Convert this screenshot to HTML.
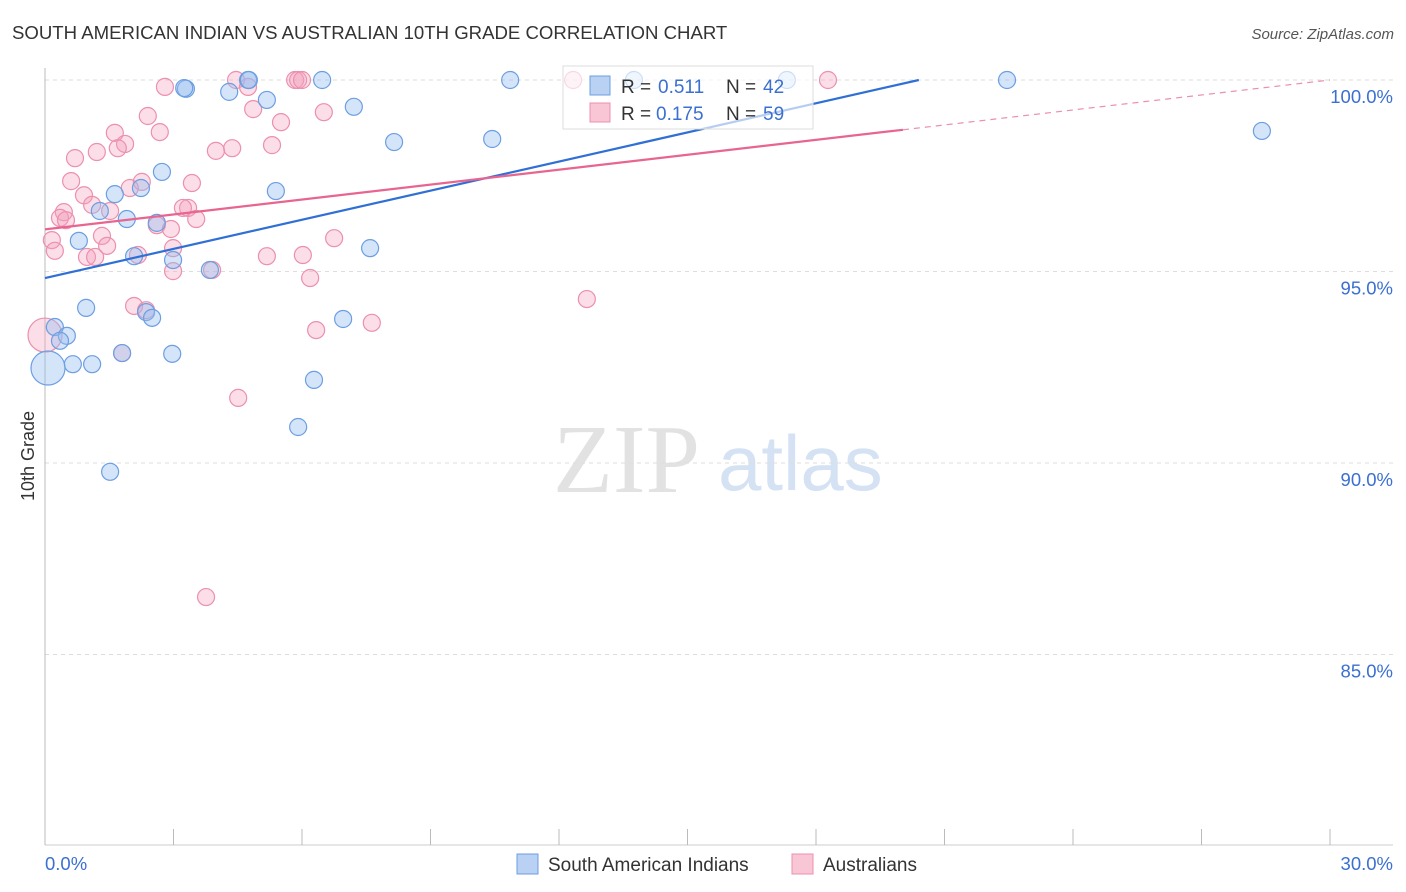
<!DOCTYPE html>
<html><head><meta charset="utf-8"><style>
body{margin:0;background:#fff;width:1406px;height:892px;overflow:hidden;font-family:"Liberation Sans",sans-serif}
svg{position:absolute;left:0;top:0}
</style></head><body>
<svg width="1406" height="892">
<text x="12" y="39" font-size="18.6" fill="#333">SOUTH AMERICAN INDIAN VS AUSTRALIAN 10TH GRADE CORRELATION CHART</text>
<text x="1394" y="39" font-size="15" fill="#555" font-style="italic" text-anchor="end">Source: ZipAtlas.com</text>
<text x="34" y="456" font-size="18" fill="#333" transform="rotate(-90 34 456)" text-anchor="middle">10th Grade</text>
<g><text x="553" y="492" font-size="98" font-family="Liberation Serif,serif" fill="#e2e2e2">ZIP</text><text x="718" y="490" font-size="78" fill="#d5e2f3">atlas</text></g>
<g id="grid"></g><g id="marks"></g><g id="lines"></g>
<g>
<rect x="563" y="66" width="250" height="63" fill="#fff" fill-opacity="0.65" stroke="#ddd"/>
<rect x="590" y="76" width="20" height="19" fill="#b9d1f3" stroke="#6c9ee2"/>
<rect x="590" y="103" width="20" height="19" fill="#f9c6d6" stroke="#ec90ad"/>
<g font-size="19"><text x="621" y="93" fill="#333">R =</text><text x="658" y="93" fill="#3b6fd0">0.511</text><text x="726" y="93" fill="#333">N =</text><text x="763" y="93" fill="#3b6fd0">42</text></g>
<g font-size="19"><text x="621" y="120" fill="#333">R =</text><text x="656" y="120" fill="#3b6fd0">0.175</text><text x="726" y="120" fill="#333">N =</text><text x="763" y="120" fill="#3b6fd0">59</text></g>
</g>
<g>
<rect x="517" y="854" width="21" height="20" fill="#b9d1f3" stroke="#6c9ee2"/>
<text x="548" y="871" font-size="19" fill="#333">South American Indians</text>
<rect x="792" y="854" width="21" height="20" fill="#f9c6d6" stroke="#ec90ad"/>
<text x="823" y="871" font-size="19" fill="#333">Australians</text>
</g>
</svg>
<script>
const blueX=[3.29,3.25,4.74,6.47,4.30,5.18,7.21,8.15,10.44,10.86,13.75,17.32,22.46,28.41,2.73,2.24,1.63,5.39,1.28,1.91,2.61,7.59,0.79,2.08,2.99,3.85,0.96,2.36,2.50,6.96,0.23,0.51,0.35,1.80,2.97,0.65,1.10,0.07,6.28,5.91,1.52,4.76];
const blueY=[99.77,99.79,100,100,99.69,99.48,99.30,98.38,98.46,100,100,100,100,98.67,97.60,97.18,97.02,97.10,96.58,96.37,96.27,95.61,95.80,95.40,95.30,95.04,94.05,93.94,93.79,93.76,93.55,93.32,93.19,92.87,92.85,92.58,92.58,92.48,92.17,90.94,89.77,100];
const blueR=[8.5,8.5,8.5,8.5,8.5,8.5,8.5,8.5,8.5,8.5,8.5,8.5,8.5,8.5,8.5,8.5,8.5,8.5,8.5,8.5,8.5,8.5,8.5,8.5,8.5,8.5,8.5,8.5,8.5,8.5,8.5,8.5,8.5,8.5,8.5,8.5,8.5,17,8.5,8.5,8.5,8.5];
const pinkX=[2.80,4.46,4.74,5.84,5.91,12.33,18.28,2.40,4.86,6.51,5.51,2.68,1.63,1.87,1.70,4.37,3.99,5.30,1.21,0.70,2.26,3.43,0.61,0.91,1.98,1.10,0.44,0.35,0.49,3.34,3.22,1.52,2.61,2.94,3.53,0.16,0.23,1.33,1.45,0.98,1.17,2.17,2.99,2.99,3.90,5.18,6.02,6.75,6.19,12.65,2.08,2.36,6.33,7.63,0,1.80,4.51,3.76,6.0];
const pinkY=[99.82,100,99.82,100,100,100,100,99.06,99.24,99.16,98.90,98.64,98.62,98.33,98.22,98.22,98.15,98.30,98.12,97.96,97.34,97.31,97.36,96.99,97.18,96.74,96.55,96.40,96.34,96.66,96.66,96.58,96.21,96.11,96.37,95.82,95.54,95.93,95.67,95.38,95.38,95.43,95.61,95.01,95.04,95.40,95.43,95.87,94.83,94.28,94.10,93.99,93.47,93.66,93.34,92.87,91.70,86.50,100];
const pinkBig=[54];
const yTicks=[100,95,90,85];
const yTickLabels=["100.0%","95.0%","90.0%","85.0%"];
const xTickVals=[0,3,6,9,12,15,18,21,24,27,30];
const blueTrend=[0,94.83,20.4,100];
const pinkTrend=[0,96.1,20.03,98.7,30,100];
const X0=45,X1=1330,Y100=80,PPU=38.3;
const xs=v=>X0+v*(X1-X0)/30, ys=v=>Y100+(100-v)*PPU;
const NS="http://www.w3.org/2000/svg";
function mk(t,a,p){const e=document.createElementNS(NS,t);for(const k in a)e.setAttribute(k,a[k]);p.appendChild(e);return e;}
const grid=document.getElementById('grid'),marks=document.getElementById('marks'),lines=document.getElementById('lines');
yTicks.forEach((v,i)=>{
 const l=mk('line',{x1:X0,x2:1393,y1:ys(v),y2:ys(v),stroke:'#ddd','stroke-dasharray':'4,4'},grid);
 
 
 const t=mk('text',{x:1393,y:ys(v)+23,'font-size':18.5,fill:'#3b6fd0','text-anchor':'end'},grid);t.textContent=yTickLabels[i];
 
 
});
const ax=mk('line',{x1:X0,x2:X0,y1:68,y2:845,stroke:'#bbb'},grid);


const bx=mk('line',{x1:X0,x2:1393,y1:845,y2:845,stroke:'#ccc'},grid);


xTickVals.forEach(v=>{const l=mk('line',{x1:xs(v),x2:xs(v),y1:829,y2:845,stroke:'#bbb'},grid);
 
 });
[[0,'0.0%','start',45],[30,'30.0%','end',1393]].forEach(d=>{const t=mk('text',{x:d[3],y:870,'font-size':18.5,fill:'#3b6fd0','text-anchor':d[2]},grid);t.textContent=d[1];
 
 });
pinkX.forEach((v,i)=>{const c=mk('circle',{cx:xs(v),cy:ys(pinkY[i]),r:pinkBig.includes(i)?17:8.5,fill:'rgba(244,160,189,0.35)',stroke:'#ec90ad','stroke-width':1.2},marks);
 
 });
blueX.forEach((v,i)=>{const c=mk('circle',{cx:xs(v),cy:ys(blueY[i]),r:blueR[i],fill:'rgba(150,190,240,0.4)',stroke:'#6c9ee2','stroke-width':1.2},marks);
 
 });
const bl=mk('line',{x1:xs(blueTrend[0]),y1:ys(blueTrend[1]),x2:xs(blueTrend[2]),y2:ys(blueTrend[3]),stroke:'#2f6fd6','stroke-width':2.2},lines);


const pl=mk('line',{x1:xs(pinkTrend[0]),y1:ys(pinkTrend[1]),x2:xs(pinkTrend[2]),y2:ys(pinkTrend[3]),stroke:'#e8658f','stroke-width':2.2},lines);


const pd=mk('line',{x1:xs(pinkTrend[2]),y1:ys(pinkTrend[3]),x2:xs(pinkTrend[4]),y2:ys(pinkTrend[5]),stroke:'#eb8fab','stroke-width':1.2,'stroke-dasharray':'6,5'},lines);


</script>
</body></html>
